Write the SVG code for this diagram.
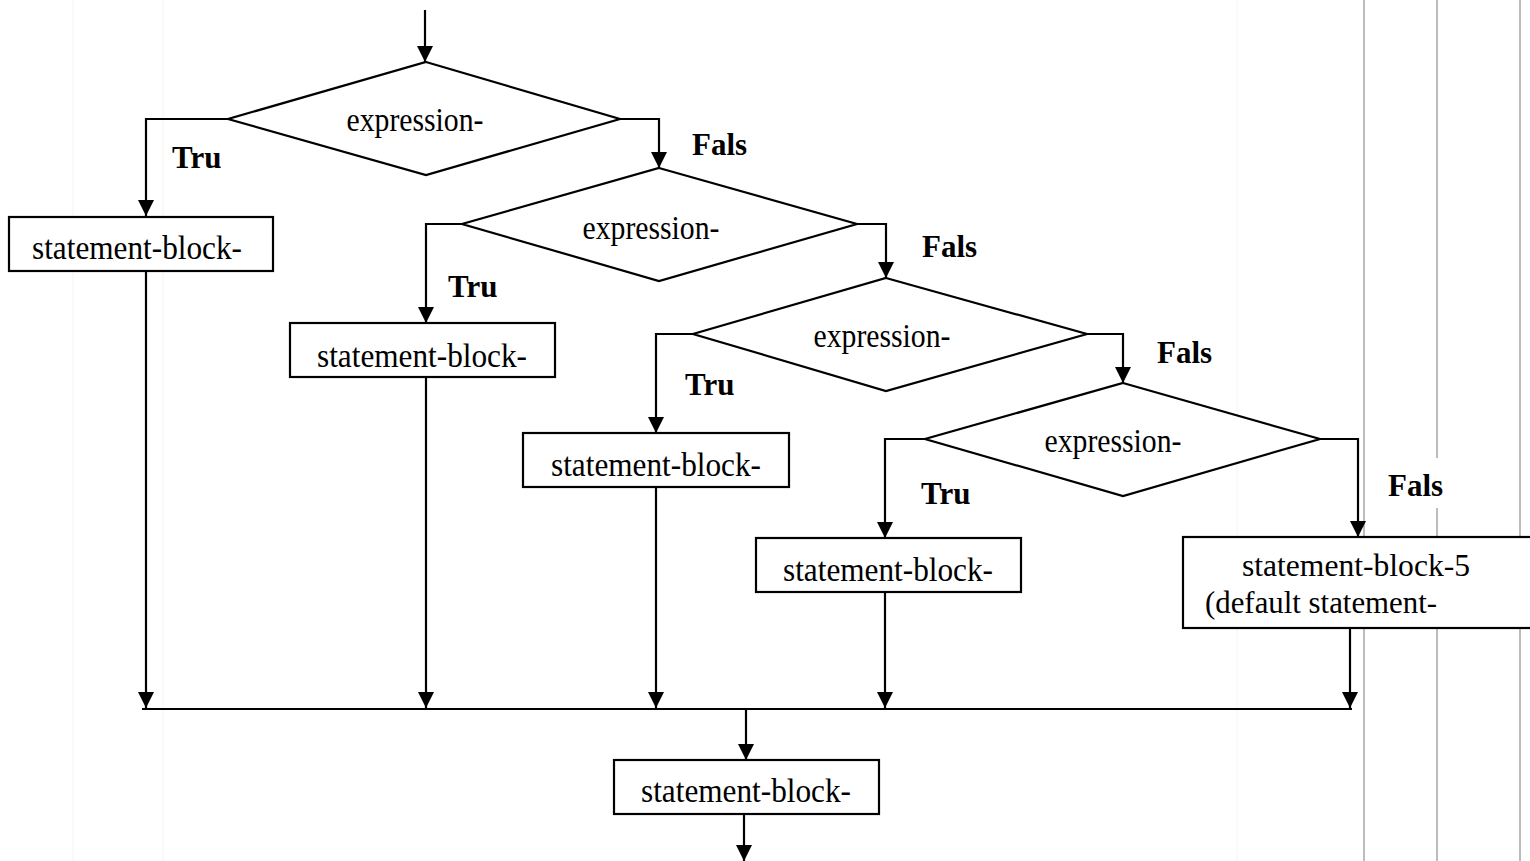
<svg xmlns="http://www.w3.org/2000/svg" width="1530" height="861" viewBox="0 0 1530 861">
<style>
.bg{fill:#ffffff}
.grid{stroke:#a6a6a6;stroke-width:1.5;fill:none}
.faint{stroke:#f4f4f4;stroke-width:1;fill:none}
.shape{fill:#ffffff;stroke:#000000;stroke-width:2.2}
.conn{fill:none;stroke:#000000;stroke-width:2.2}
.txt{font-family:"Liberation Serif","Times New Roman",serif;font-size:33px;fill:#000000}
.txt5{font-family:"Liberation Serif","Times New Roman",serif;font-size:32px;fill:#000000}
.lbl{font-family:"Liberation Serif","Times New Roman",serif;font-size:31px;font-weight:bold;fill:#000000}
</style>
<defs>
<marker id="arr" markerUnits="userSpaceOnUse" markerWidth="17" markerHeight="17" refX="16" refY="8" orient="auto">
<path d="M0,0 L16,8 L0,16 z" fill="#000000"/>
</marker>
</defs>
<rect class="bg" x="0" y="0" width="1530" height="861"/>
<g id="background-lines">
<line class="faint" x1="73" y1="0" x2="73" y2="861"/>
<line class="faint" x1="163" y1="0" x2="163" y2="861"/>
<line class="faint" x1="1237" y1="0" x2="1237" y2="861"/>
<line class="grid" x1="1364" y1="0" x2="1364" y2="861"/>
<line class="grid" x1="1437" y1="0" x2="1437" y2="861"/>
<line class="grid" x1="1520" y1="0" x2="1520" y2="861"/>
</g>
<g id="connectors">
<path class="conn" marker-end="url(#arr)" d="M425,10 L425,62"/>
<path class="conn" marker-end="url(#arr)" d="M228,119 L146,119 L146,216"/>
<path class="conn" marker-end="url(#arr)" d="M620,119 L659,119 L659,168"/>
<path class="conn" marker-end="url(#arr)" d="M146,271 L146,708"/>
<path class="conn" marker-end="url(#arr)" d="M462,224 L426,224 L426,323"/>
<path class="conn" marker-end="url(#arr)" d="M857,224 L886,224 L886,278"/>
<path class="conn" marker-end="url(#arr)" d="M426,377 L426,708"/>
<path class="conn" marker-end="url(#arr)" d="M693,334 L656,334 L656,433"/>
<path class="conn" marker-end="url(#arr)" d="M1087,334 L1123,334 L1123,383"/>
<path class="conn" marker-end="url(#arr)" d="M656,487 L656,708"/>
<path class="conn" marker-end="url(#arr)" d="M925,439 L885,439 L885,538"/>
<path class="conn" marker-end="url(#arr)" d="M1320,439 L1358,439 L1358,537"/>
<path class="conn" marker-end="url(#arr)" d="M885,592 L885,708"/>
<path class="conn" marker-end="url(#arr)" d="M1350,628 L1350,708"/>
<path class="conn" d="M142,709 L1352,709"/>
<path class="conn" marker-end="url(#arr)" d="M746,709 L746,760"/>
<path class="conn" marker-end="url(#arr)" d="M744,814 L744,861"/>
</g>
<g id="decision-1">
<polygon class="shape" points="426,62 620,119 426,175 228,119"/>
<text class="txt" x="415" y="131" text-anchor="middle" textLength="137" lengthAdjust="spacingAndGlyphs">expression-</text>
</g>
<g id="decision-2">
<polygon class="shape" points="659,168 857,224 659,281 462,224"/>
<text class="txt" x="651" y="239" text-anchor="middle" textLength="137" lengthAdjust="spacingAndGlyphs">expression-</text>
</g>
<g id="decision-3">
<polygon class="shape" points="886,278 1087,334 886,391 693,334"/>
<text class="txt" x="882" y="347" text-anchor="middle" textLength="137" lengthAdjust="spacingAndGlyphs">expression-</text>
</g>
<g id="decision-4">
<polygon class="shape" points="1123,383 1320,439 1123,496 925,439"/>
<text class="txt" x="1113" y="452" text-anchor="middle" textLength="137" lengthAdjust="spacingAndGlyphs">expression-</text>
</g>
<g id="block-1">
<rect class="shape" x="9" y="217" width="264" height="54"/>
<text class="txt" x="137" y="259" text-anchor="middle" textLength="210" lengthAdjust="spacingAndGlyphs">statement-block-</text>
</g>
<g id="block-2">
<rect class="shape" x="290" y="323" width="265" height="54"/>
<text class="txt" x="422" y="367" text-anchor="middle" textLength="210" lengthAdjust="spacingAndGlyphs">statement-block-</text>
</g>
<g id="block-3">
<rect class="shape" x="523" y="433" width="266" height="54"/>
<text class="txt" x="656" y="476" text-anchor="middle" textLength="210" lengthAdjust="spacingAndGlyphs">statement-block-</text>
</g>
<g id="block-4">
<rect class="shape" x="756" y="538" width="265" height="54"/>
<text class="txt" x="888" y="581" text-anchor="middle" textLength="210" lengthAdjust="spacingAndGlyphs">statement-block-</text>
</g>
<g id="block-5">
<rect class="shape" x="1183" y="537" width="360" height="91"/>
<text class="txt5" x="1356" y="576" text-anchor="middle" textLength="228" lengthAdjust="spacingAndGlyphs">statement-block-5</text>
<text class="txt5" x="1205" y="613" textLength="232" lengthAdjust="spacingAndGlyphs">(default statement-</text>
</g>
<g id="block-6">
<rect class="shape" x="614" y="760" width="265" height="54"/>
<text class="txt" x="746" y="802" text-anchor="middle" textLength="210" lengthAdjust="spacingAndGlyphs">statement-block-</text>
</g>
<g id="labels">
<text class="lbl" x="172" y="168">Tru</text>
<text class="lbl" x="692" y="155">Fals</text>
<text class="lbl" x="448" y="297">Tru</text>
<text class="lbl" x="922" y="257">Fals</text>
<text class="lbl" x="685" y="395">Tru</text>
<text class="lbl" x="1157" y="363">Fals</text>
<text class="lbl" x="921" y="504">Tru</text>
<rect x="1386" y="458" width="60" height="50" fill="#ffffff"/>
<text class="lbl" x="1388" y="496">Fals</text>
</g>
</svg>
